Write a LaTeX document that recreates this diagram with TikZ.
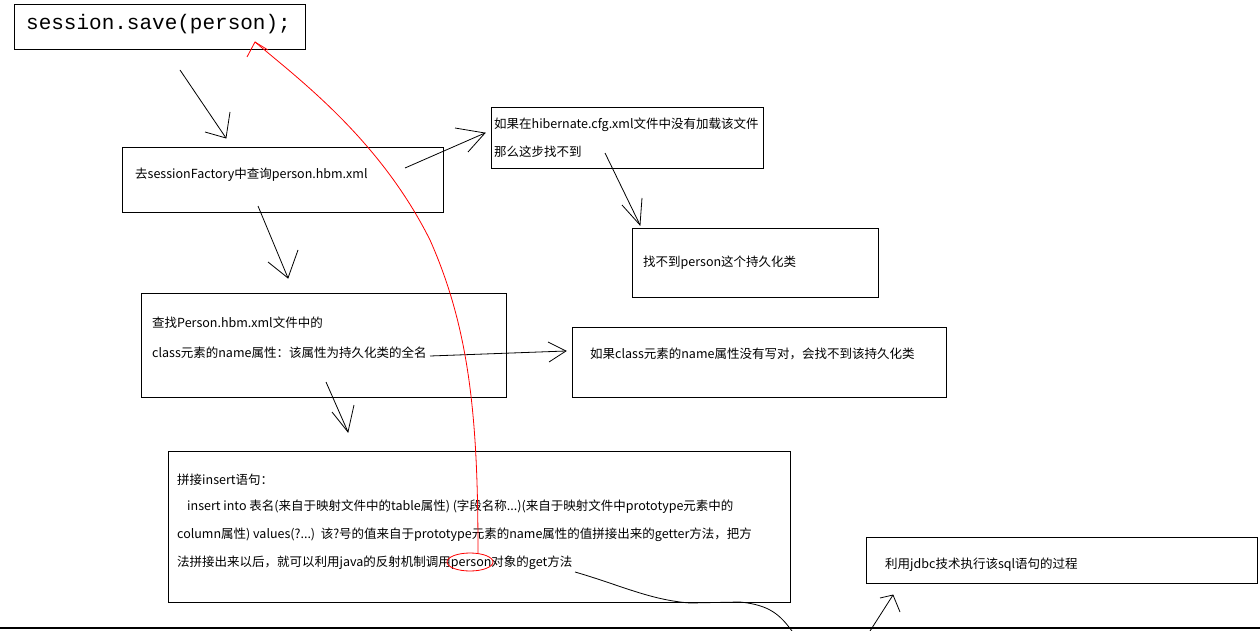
\documentclass[tikz,border=0pt]{standalone}
\usepackage{fontspec}
\setmainfont{Noto Sans CJK SC}
\setmonofont{Liberation Mono}
\begin{document}
\begin{tikzpicture}[x=1pt,y=-1pt,
 box/.style={draw,line width=1pt},
 txt/.style={anchor=west,inner sep=0,font=\fontsize{12.5}{13}\selectfont},
 hand/.style={line width=0.8pt},
 vhead/.style={line width=0.8pt}]
\useasboundingbox[fill=white] (0,0) rectangle (1260,631);
\draw[box] (14,5) rectangle (305,50);
\node[anchor=west,inner sep=0,font=\ttfamily\fontsize{21}{22}\selectfont] (t0) at (26,24) {session.save(person);};
\draw[box] (122,148) rectangle (443,212);
\node[txt] (t1) at (135,175) {去sessionFactory中查询person.hbm.xml};
\draw[box] (491,108) rectangle (763,169);
\node[txt] (t2a) at (494,125) {如果在hibernate.cfg.xml文件中没有加载该文件};
\node[txt] (t2b) at (494,152) {那么这步找不到};
\draw[box] (632,228) rectangle (878,297);
\node[txt] (t3) at (643,263) {找不到person这个持久化类};
\draw[box] (141,293) rectangle (506,397);
\node[txt] (t4a) at (152,323) {查找Person.hbm.xml文件中的};
\node[txt] (t4b) at (152,353) {class元素的name属性：该属性为持久化类的全名};
\draw[box] (572,327) rectangle (946,397);
\node[txt] (t5) at (590,354) {如果class元素的name属性没有写对，会找不到该持久化类};
\draw[box] (168,451) rectangle (790,602);
\node[txt] (t6a) at (177,480) {拼接insert语句：};
\node[txt] (t6b) at (187,507) {insert into 表名(来自于映射文件中的table属性) (字段名称...)(来自于映射文件中prototype元素中的};
\node[txt] (t6c) at (177,535) {column属性) values(?...)\ \ 该?号的值来自于prototype元素的name属性的值拼接出来的getter方法，把方};
\node[txt] (t6d) at (177,563) {法拼接出来以后，就可以利用java的反射机制调用person对象的get方法};
\draw[box] (866,537) rectangle (1257,583);
\node[txt] (t7) at (885,565) {利用jdbc技术执行该sql语句的过程};
\draw[line width=1.2pt] (0,628) -- (1260,628);
% black hand arrows
\draw[hand] (180,70) -- (226,138); \draw[vhead] (205,132) -- (226,138) -- (230,112);
\draw[hand] (405,168) -- (485,133); \draw[vhead] (455,128) -- (485,133) -- (468,152);
\draw[hand] (605,153) -- (640,225); \draw[vhead] (622,205) -- (640,225) -- (642,198);
\draw[hand] (258,206) -- (288,278); \draw[vhead] (268,262) -- (288,278) -- (298,250);
\draw[hand] (430,356) -- (566,351); \draw[vhead] (548,342) -- (566,351) -- (549,362);
\draw[hand] (326,382) -- (348,432); \draw[vhead] (332,412) -- (348,432) -- (354,405);
\draw[hand] (575,572) .. controls (620,585) and (650,600) .. (690,603) -- (740,602) .. controls (770,605) and (780,615) .. (792,631);
\draw[hand] (870,631) -- (893,595); \draw[vhead] (880,598) -- (893,595) -- (900,612);
% red
\draw[red,line width=0.8pt] (478,553) .. controls (478,420) and (470,330) .. (430,240) .. controls (380,140) and (300,80) .. (255,42);
\draw[red,line width=0.8pt] (247,57) -- (255,42) -- (268,50);
\draw[red,line width=0.8pt] (470,562) ellipse (23 and 9);
\end{tikzpicture}
\end{document}
